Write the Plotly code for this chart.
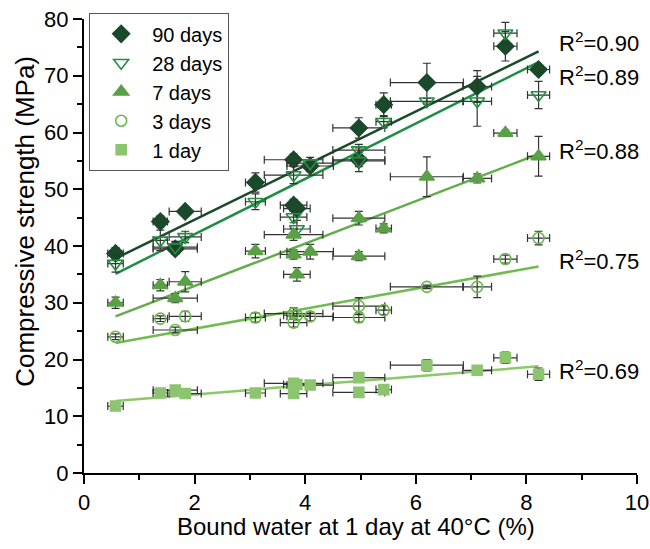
import plotly.graph_objects as go

# Bound water at 1 day at 40°C (%) — one value per mix
bound_water = [0.57, 1.38, 1.65, 1.83, 3.10, 3.79, 3.79, 3.85, 4.09, 4.97, 4.97, 5.42, 6.20, 7.11, 7.62, 8.22]
bound_water_err = [0.14, 0.13, 0.40, 0.29, 0.18, 0.53, 0.24, 0.24, 0.42, 0.47, 0.47, 0.14, 0.66, 0.26, 0.21, 0.20]

# Compressive strength (MPa) by age
cs_90d = [38.7, 44.3, 39.5, 46.1, 51.2, 55.2, 47.2, 46.6, 54.1, 60.8, 55.2, 64.9, 68.8, 68.1, 75.2, 71.1]
cs_90d_err = [1.0, 1.0, 1.0, 0.8, 1.7, 1.0, 1.0, 1.0, 1.0, 1.8, 2.1, 2.1, 3.4, 2.8, 2.6, 0.8]
cs_28d = [36.9, 41.0, 39.8, 41.6, 47.8, 52.5, 45.1, 43.0, 54.6, 56.9, 55.0, 61.9, 65.5, 65.5, 77.5, 66.6]
cs_28d_err = [1.5, 1.8, 1.0, 1.0, 1.4, 1.5, 1.0, 1.5, 1.0, 1.0, 1.0, 1.1, 0.5, 4.4, 1.9, 2.4]
cs_7d = [30.0, 33.1, 30.8, 33.7, 39.1, 42.0, 38.5, 35.0, 39.0, 44.9, 38.2, 43.1, 52.2, 51.9, 59.9, 55.8]
cs_7d_err = [1.0, 1.0, 0.8, 1.8, 1.2, 1.0, 0.8, 1.2, 1.3, 1.2, 0.8, 0.8, 3.5, 0.8, 0.5, 3.5]
cs_3d = [24.0, 27.2, 25.2, 27.6, 27.4, 28.1, 26.5, 27.8, 27.6, 29.4, 27.4, 28.7, 32.8, 32.8, 37.7, 41.4]
cs_3d_err = [0.5, 0.5, 0.5, 0.9, 0.8, 1.0, 0.8, 0.8, 0.8, 1.5, 0.8, 0.8, 0.3, 1.9, 0.7, 1.2]
cs_1d = [11.8, 14.1, 14.6, 14.0, 14.1, 15.8, 14.0, 15.6, 15.5, 16.8, 14.2, 14.7, 19.0, 18.1, 20.3, 17.4]
cs_1d_err = [0.6, 0.6, 0.8, 0.6, 0.6, 0.8, 0.6, 0.6, 0.6, 0.6, 0.6, 0.6, 1.0, 0.5, 1.0, 1.1]

# Linear fits (slope, intercept) and R² labels
fit_slope = [4.77, 4.876, 3.739, 1.765, 0.797]
fit_intercept = [35.08, 32.32, 25.47, 21.89, 12.25]
r2_labels = ["0.90", "0.89", "0.88", "0.75", "0.69"]
r2_label_y = [75.9, 70.0, 56.9, 37.5, 18.2]

series_names = ["90 days", "28 days", "7 days", "3 days", "1 day"]
series_vals = [cs_90d, cs_28d, cs_7d, cs_3d, cs_1d]
series_errs = [cs_90d_err, cs_28d_err, cs_7d_err, cs_3d_err, cs_1d_err]

marker_symbols = ["diamond", "triangle-down-open", "triangle-up", "circle-open", "square"]
marker_colors = ["#1a4a2a", "#22903f", "#5aa046", "#6cb84f", "#8dc46f"]
marker_sizes = [13, 13, 13, 11, 10]
line_colors = ["#1b4a28", "#1f8e44", "#62ad4a", "#72bb52", "#8cc86a"]

FONT = "Arial, 'Liberation Sans', sans-serif"

fig = go.Figure()

xmin, xmax = min(bound_water), max(bound_water)
for i in range(5):
    fig.add_trace(go.Scatter(
        x=[xmin, xmax],
        y=[fit_slope[i] * xmin + fit_intercept[i], fit_slope[i] * xmax + fit_intercept[i]],
        mode="lines", line=dict(color=line_colors[i], width=2.5),
        showlegend=False, hoverinfo="skip"))

for i in range(5):
    fig.add_trace(go.Scatter(
        x=bound_water, y=series_vals[i], name=series_names[i], mode="markers",
        marker=dict(symbol=marker_symbols[i], color=marker_colors[i], size=marker_sizes[i],
                    line=dict(color=marker_colors[i], width=1.6)),
        error_x=dict(type="data", array=bound_water_err, color="#333333", thickness=1.2, width=4),
        error_y=dict(type="data", array=series_errs[i], color="#333333", thickness=1.2, width=4),
    ))

for i in range(5):
    fig.add_annotation(x=8.55, y=r2_label_y[i], xref="x", yref="y",
                       text="R<sup>2</sup>=" + r2_labels[i], showarrow=False,
                       xanchor="left", yanchor="middle",
                       font=dict(family=FONT, size=22, color="black"))

# axis titles as annotations for exact placement
fig.add_annotation(x=0.492, y=-0.117, xref="paper", yref="paper",
                   text="Bound water at 1 day at 40°C (%)", showarrow=False,
                   xanchor="center", yanchor="middle",
                   font=dict(family=FONT, size=24, color="black"))
fig.add_annotation(x=-0.107, y=0.555, xref="paper", yref="paper",
                   text="Compressive strength (MPa)", showarrow=False, textangle=-90,
                   xanchor="center", yanchor="middle",
                   font=dict(family=FONT, size=26, color="black"))

fig.update_layout(
    width=650, height=549,
    margin=dict(l=84, r=13, t=19, b=76),
    paper_bgcolor="white", plot_bgcolor="white",
    font=dict(family=FONT, size=22, color="black"),
    legend=dict(x=0.009, y=1.013, xanchor="left", yanchor="top",
                bordercolor="#555555", borderwidth=1.2, bgcolor="white",
                font=dict(family=FONT, size=20, color="black"),
                itemwidth=52, tracegroupgap=0, entrywidth=95),
    xaxis=dict(range=[0, 10], dtick=2, tick0=0, showgrid=False, zeroline=False,
               showline=True, linecolor="black", linewidth=2, automargin=False,
               ticks="outside", ticklen=9, tickwidth=2, tickcolor="black",
               minor=dict(dtick=1, ticks="outside", ticklen=5, tickwidth=2, tickcolor="black"),
               tickfont=dict(size=22)),
    yaxis=dict(range=[0, 80], dtick=10, tick0=0, showgrid=False, zeroline=False,
               showline=True, linecolor="black", linewidth=2, automargin=False,
               ticks="outside", ticklen=9, tickwidth=2, tickcolor="black",
               minor=dict(dtick=5, ticks="outside", ticklen=5, tickwidth=2, tickcolor="black"),
               tickfont=dict(size=22)),
)

fig.write_html("out.html", config={"displayModeBar": False},
               post_script="document.body.style.margin='0';")
